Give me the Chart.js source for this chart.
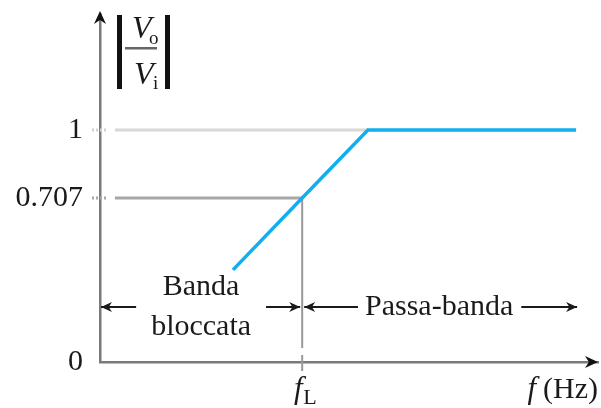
<!DOCTYPE html>
<html>
<head>
<meta charset="utf-8">
<script src="https://cdn.jsdelivr.net/npm/chart.js@4/dist/chart.umd.min.js"></script>
<style>
  body { margin: 0; background: #fff; }
  canvas { display: block; }
</style>
</head>
<body>
<canvas id="response" width="601" height="408"></canvas>
<script>
// asymptotic high-pass response |Vo/Vi| against f (linear, arbitrary units)
const freq = [26.7, 40.6, 53.8, 95.6]
const gain = [0.397, 0.707, 1, 1]
const yTicks = [0, 0.707, 1]
const fL = 40.6
const stopLabel = ['Banda', 'bloccata']
const passLabel = 'Passa-banda'
const xUnit = '(Hz)'

const serif = "'Liberation Serif', 'DejaVu Serif', serif"
const axisGray = '#7a7a7a'
const guideStart = 3

function head(c, x, y, dx, dy, len, half) {
  c.beginPath()
  c.moveTo(x, y)
  c.lineTo(x - dx * len - dy * half, y - dy * len + dx * half)
  c.lineTo(x - dx * len * 0.7, y - dy * len * 0.7)
  c.lineTo(x - dx * len + dy * half, y - dy * len - dx * half)
  c.closePath()
  c.fill()
}

function arrow(c, x0, x1, y) {
  c.beginPath()
  c.moveTo(x0, y)
  c.lineTo(x1, y)
  c.stroke()
  head(c, x1, y, Math.sign(x1 - x0), 0, 11, 5)
}

const annotations = {
  id: 'annotations',
  afterDraw(chart) {
    const c = chart.ctx
    const xs = chart.scales.x, ys = chart.scales.y
    const area = chart.chartArea
    const px = v => xs.getPixelForValue(v)
    const py = v => ys.getPixelForValue(v)
    c.save()

    // arrowheads on the axes
    c.fillStyle = '#111'
    head(c, area.left, area.top - 3, 0, -1, 13, 6)
    head(c, area.right, area.bottom, 1, 0, 13, 6)

    // stubs where the guides meet the y axis
    c.setLineDash([2, 2])
    c.lineWidth = 3
    yTicks.slice(1).forEach((v, i) => {
      c.strokeStyle = i === 1 ? '#d0d0d0' : '#a8a8a8'
      c.beginPath()
      c.moveTo(area.left - 8, py(v))
      c.lineTo(area.left + 7, py(v))
      c.stroke()
    })
    c.setLineDash([])

    // fL tick across the x axis
    c.strokeStyle = '#999'
    c.lineWidth = 2
    c.beginPath()
    c.moveTo(px(fL), area.bottom - 7)
    c.lineTo(px(fL), area.bottom + 9)
    c.stroke()

    // band labels with their arrows
    const row = py(0.237)
    c.fillStyle = '#1a1a1a'
    c.strokeStyle = '#1a1a1a'
    c.lineWidth = 2
    c.font = '30px ' + serif
    c.textAlign = 'center'
    c.textBaseline = 'middle'

    const stopX = px(fL / 2)
    const stopHalf = Math.max(...stopLabel.map(s => c.measureText(s).width)) / 2
    c.fillText(stopLabel[0], stopX, row - 20)
    c.fillText(stopLabel[1], stopX, row + 20)
    arrow(c, stopX - stopHalf - 15, px(0) + 1, row)
    arrow(c, stopX + stopHalf + 15, px(fL) - 2, row)

    const passEnd = freq[freq.length - 1]
    const passX = px((fL + passEnd) / 2)
    const passHalf = c.measureText(passLabel).width / 2
    c.fillText(passLabel, passX, row)
    arrow(c, passX - passHalf - 7, px(fL) + 2, row)
    arrow(c, passX + passHalf + 8, px(passEnd) + 1, row)

    // x labels: fL and f (Hz)
    c.textBaseline = 'alphabetic'
    c.font = 'italic 31px ' + serif
    c.fillText('f', px(fL) - 4, area.bottom + 36)
    c.font = '22px ' + serif
    c.textAlign = 'left'
    c.fillText('L', px(fL) + 1, area.bottom + 42)

    c.textAlign = 'right'
    c.font = '30px ' + serif
    c.fillText(xUnit, area.right, area.bottom + 36)
    const unitW = c.measureText(xUnit).width
    c.font = 'italic 31px ' + serif
    c.fillText('f', area.right - unitW - 7, area.bottom + 36)

    // y title |Vo / Vi|
    const L = area.left
    c.fillStyle = '#111'
    c.fillRect(L + 17, 15, 5, 74)
    c.fillRect(L + 65, 15, 5, 74)
    c.fillStyle = '#666'
    c.fillRect(L + 25, 47, 32, 2.5)
    c.fillStyle = '#1a1a1a'
    c.textAlign = 'left'
    c.font = 'italic 32px ' + serif
    c.fillText('V', L + 32, 38)
    c.fillText('V', L + 34, 84)
    c.font = '19px ' + serif
    c.fillText('o', L + 49, 44)
    c.fillText('i', L + 53, 89)

    c.restore()
  }
}

new Chart(document.getElementById('response'), {
  type: 'scatter',
  data: {
    datasets: [{
      data: freq.map((x, i) => ({ x: x, y: gain[i] })),
      showLine: true,
      borderColor: '#12aef0',
      borderWidth: 3.5,
      pointRadius: 0,
      order: 0
    }, {
      data: [{ x: guideStart, y: yTicks[2] }, { x: freq[2], y: yTicks[2] }],
      showLine: true,
      borderColor: '#d8d8d8',
      borderWidth: 3,
      pointRadius: 0,
      order: 3
    }, {
      data: [{ x: guideStart, y: yTicks[1] }, { x: fL, y: yTicks[1] }],
      showLine: true,
      borderColor: '#a8a8a8',
      borderWidth: 3,
      pointRadius: 0,
      order: 2
    }, {
      data: [{ x: fL, y: yTicks[1] }, { x: fL, y: 0.06 }],
      showLine: true,
      borderColor: '#999',
      borderWidth: 2,
      pointRadius: 0,
      order: 1
    }]
  },
  options: {
    responsive: false,
    animation: false,
    layout: { padding: { top: 14, right: 3, left: 0, bottom: 0 } },
    plugins: { legend: { display: false }, tooltip: { enabled: false } },
    scales: {
      x: {
        type: 'linear',
        min: 0,
        max: 100,
        afterFit: s => { s.height = 46; s.paddingLeft = 0; s.paddingRight = 0 },
        ticks: { display: false },
        grid: { drawOnChartArea: false, drawTicks: false },
        border: { color: axisGray, width: 2.5 }
      },
      y: {
        type: 'linear',
        min: 0,
        max: 1.5,
        afterBuildTicks: s => { s.ticks = yTicks.map(v => ({ value: v })) },
        // fixed width, and no extra room for the outer tick labels
        afterFit: s => { s.width = 100; s.paddingTop = 0; s.paddingBottom = 0 },
        ticks: {
          font: { family: serif, size: 30 },
          color: '#1a1a1a',
          padding: 17,
          callback: v => String(v)
        },
        grid: { drawOnChartArea: false, drawTicks: false },
        border: { color: axisGray, width: 2.5 }
      }
    }
  },
  plugins: [annotations]
})
</script>
</body>
</html>
